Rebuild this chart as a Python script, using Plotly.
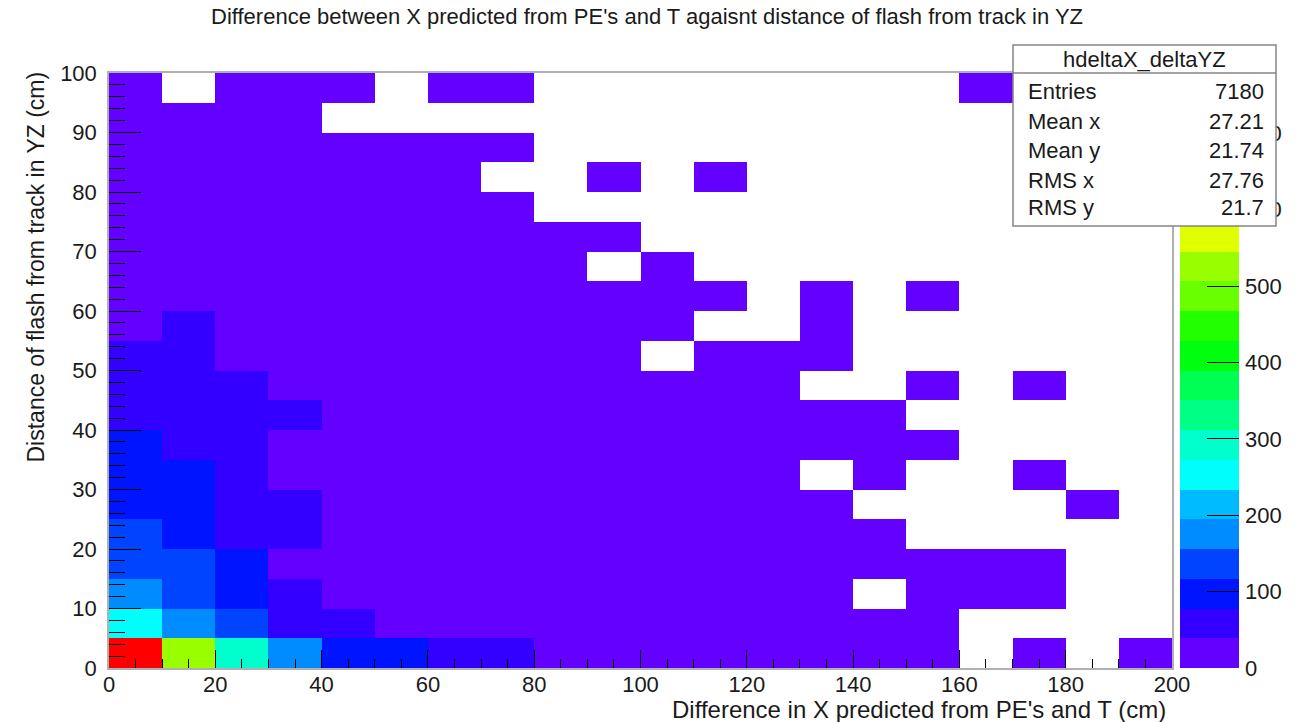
import plotly.graph_objects as go

# ---------------- data ----------------
# bin centres (cm)
x_centers = [5, 15, 25, 35, 45, 55, 65, 75, 85, 95, 105, 115, 125, 135, 145, 155, 165, 175, 185, 195]
y_centers = [2.5, 7.5, 12.5, 17.5, 22.5, 27.5, 32.5, 37.5, 42.5, 47.5,
             52.5, 57.5, 62.5, 67.5, 72.5, 77.5, 82.5, 87.5, 92.5, 97.5]

# counts per y-bin (0 = empty bin), x from 0 to 200 cm
row_y_00_05 = [779, 525, 290, 175, 95, 90, 60, 50, 34, 28, 22, 18, 12, 9, 6, 4, 0, 2, 0, 1]
row_y_05_10 = [250, 165, 130, 55, 45, 36, 30, 26, 21, 17, 13, 10, 7, 5, 3, 2, 0, 0, 0, 0]
row_y_10_15 = [160, 125, 90, 45, 37, 32, 27, 22, 18, 14, 10, 8, 5, 3, 0, 2, 1, 1, 0, 0]
row_y_15_20 = [135, 120, 85, 36, 34, 29, 24, 20, 16, 12, 9, 7, 4, 3, 2, 1, 1, 1, 0, 0]
row_y_20_25 = [120, 85, 65, 42, 33, 27, 22, 18, 14, 11, 8, 6, 4, 2, 1, 0, 0, 0, 0, 0]
row_y_25_30 = [95, 84, 60, 42, 30, 25, 20, 16, 12, 9, 7, 5, 3, 1, 0, 0, 0, 0, 1, 0]
row_y_30_35 = [90, 84, 55, 36, 28, 23, 18, 14, 11, 8, 6, 4, 2, 0, 1, 0, 0, 1, 0, 0]
row_y_35_40 = [85, 70, 50, 35, 26, 20, 16, 12, 9, 7, 5, 3, 2, 1, 1, 1, 0, 0, 0, 0]
row_y_40_45 = [75, 65, 50, 44, 24, 18, 14, 11, 8, 6, 4, 3, 2, 1, 1, 0, 0, 0, 0, 0]
row_y_45_50 = [70, 60, 45, 33, 22, 16, 12, 9, 7, 5, 3, 2, 1, 0, 0, 1, 0, 1, 0, 0]
row_y_50_55 = [55, 50, 36, 28, 19, 14, 10, 8, 6, 4, 0, 2, 1, 1, 0, 0, 0, 0, 0, 0]
row_y_55_60 = [35, 42, 32, 24, 16, 12, 9, 6, 4, 3, 2, 0, 0, 1, 0, 0, 0, 0, 0, 0]
row_y_60_65 = [34, 30, 26, 20, 14, 10, 7, 5, 3, 2, 1, 1, 0, 1, 0, 1, 0, 0, 0, 0]
row_y_65_70 = [28, 25, 21, 16, 11, 8, 6, 4, 2, 0, 1, 0, 0, 0, 0, 0, 0, 0, 0, 0]
row_y_70_75 = [24, 20, 17, 13, 9, 6, 4, 3, 1, 1, 0, 0, 0, 0, 0, 0, 0, 0, 0, 0]
row_y_75_80 = [19, 16, 13, 10, 7, 5, 3, 2, 0, 0, 0, 0, 0, 0, 0, 0, 0, 0, 0, 0]
row_y_80_85 = [15, 12, 10, 7, 5, 3, 2, 0, 0, 1, 0, 1, 0, 0, 0, 0, 0, 0, 0, 0]
row_y_85_90 = [11, 9, 7, 5, 3, 2, 1, 1, 0, 0, 0, 0, 0, 0, 0, 0, 0, 0, 0, 0]
row_y_90_95 = [7, 5, 3, 2, 0, 0, 0, 0, 0, 0, 0, 0, 0, 0, 0, 0, 0, 0, 0, 0]
row_y_95_100 = [3, 0, 2, 1, 1, 0, 1, 1, 0, 0, 0, 0, 0, 0, 0, 0, 1, 0, 0, 0]

x_tick_vals = [0, 20, 40, 60, 80, 100, 120, 140, 160, 180, 200]
y_tick_vals = [0, 10, 20, 30, 40, 50, 60, 70, 80, 90, 100]
z_tick_vals = [0, 100, 200, 300, 400, 500, 600, 700]

stats_name = "hdeltaX_deltaYZ"
stats_labels = ["Entries", "Mean x", "Mean y", "RMS x", "RMS y"]
stats_values = ["7180", "27.21", "21.74", "27.76", "21.7"]

title_text = "Difference between X predicted from PE's and T agaisnt distance of flash from track in YZ"
x_title = "Difference in X predicted from PE's and T (cm)"
y_title = "Distance of flash from track in YZ (cm)"

# ROOT "pretty" palette, 20 contour levels
palette = ["#6300ff", "#3300ff", "#0014ff", "#0044ff", "#008bff",
           "#00bbff", "#00fffc", "#00ffcc", "#00ff85", "#00ff55",
           "#00ff0e", "#22ff00", "#69ff00", "#99ff00", "#e0ff00",
           "#ffee00", "#ffa700", "#ff7700", "#ff3000", "#ff0000"]

# ---------------- build ----------------
rows = [row_y_00_05, row_y_05_10, row_y_10_15, row_y_15_20, row_y_20_25,
        row_y_25_30, row_y_30_35, row_y_35_40, row_y_40_45, row_y_45_50,
        row_y_50_55, row_y_55_60, row_y_60_65, row_y_65_70, row_y_70_75,
        row_y_75_80, row_y_80_85, row_y_85_90, row_y_90_95, row_y_95_100]
z = [[(v if v > 0 else None) for v in r] for r in rows]
zmax = max(max(r) for r in rows)

n = len(palette)
cscale = []
for k, c in enumerate(palette):
    cscale.append([k / n, c])
    cscale.append([(k + 1) / n, c])

band_edges = [zmax * k / n for k in range(n + 1)]
band_mid = [[(band_edges[k] + band_edges[k + 1]) / 2] for k in range(n)]

W, H = 1297, 722
L, R, T, B = 109, 58, 73, 54
pw, ph = W - L - R, H - T - B


def fx(px):
    return (px - L) / pw


def fy(py):
    return (H - B - py) / ph


FONT = "Liberation Sans, Arial, Helvetica, sans-serif"
TXT = "#1a1a1a"
FRAME = "#b0b0b0"

fig = go.Figure()
fig.add_trace(go.Heatmap(x=x_centers, y=y_centers, z=z, zmin=0, zmax=zmax,
                         colorscale=cscale, showscale=False, hoverongaps=False,
                         xaxis="x", yaxis="y"))
fig.add_trace(go.Heatmap(x=[0, 1], y=band_edges, z=band_mid, zmin=0, zmax=zmax,
                         colorscale=cscale, showscale=False,
                         xaxis="x2", yaxis="y2"))

axis_common = dict(showgrid=False, zeroline=False, showline=True, linecolor=FRAME,
                   linewidth=1.5, mirror=True, ticks="inside", tickcolor="black",
                   tickwidth=1, tickfont=dict(family=FONT, size=22, color=TXT),
                   tickmode="array")

fig.update_layout(
    width=W, height=H,
    margin=dict(l=L, r=R, t=T, b=B, pad=0),
    paper_bgcolor="white", plot_bgcolor="white",
    showlegend=False, hovermode=False,
    xaxis=dict(domain=[0, fx(1172)], range=[0, 200], tickvals=x_tick_vals,
               ticklen=18, anchor="y", ticklabelstandoff=-4,
               minor=dict(ticks="inside", ticklen=9, dtick=5, tick0=0,
                          tickcolor="black", tickwidth=1),
               **axis_common),
    yaxis=dict(domain=[0, 1], range=[0, 100], tickvals=y_tick_vals,
               ticklen=32, anchor="x", ticklabelstandoff=6,
               minor=dict(ticks="inside", ticklen=16, dtick=2, tick0=0,
                          tickcolor="black", tickwidth=1),
               **axis_common),
    xaxis2=dict(domain=[fx(1180), fx(1239)], range=[0, 1], visible=False,
                anchor="y2"),
    yaxis2=dict(domain=[0, 1], range=[0, zmax], anchor="x2", side="right",
                tickmode="array", tickvals=z_tick_vals, ticks="inside",
                ticklen=32, tickcolor="black", tickwidth=1, showline=False,
                showgrid=False, zeroline=False, ticklabelstandoff=5,
                tickfont=dict(family=FONT, size=22, color=TXT)),
)

shapes = [
    dict(type="rect", xref="paper", yref="paper", x0=fx(1013), x1=fx(1276),
         y0=fy(226), y1=fy(45), fillcolor="white",
         line=dict(color="#858585", width=1.5), layer="above"),
    dict(type="line", xref="paper", yref="paper", x0=fx(1013), x1=fx(1276),
         y0=fy(73), y1=fy(73), line=dict(color="#858585", width=1.5),
         layer="above"),
]
fig.update_layout(shapes=shapes)

ann = []
ann.append(dict(text=title_text, x=fx(647), y=fy(17), xref="paper", yref="paper",
                xanchor="center", yanchor="middle", showarrow=False,
                font=dict(family=FONT, size=22, color=TXT)))
ann.append(dict(text=x_title, x=fx(1168), y=fy(709), xref="paper", yref="paper",
                xanchor="right", yanchor="middle", showarrow=False,
                font=dict(family=FONT, size=24, color=TXT)))
ann.append(dict(text=y_title, x=fx(35), y=fy(70), xref="paper", yref="paper",
                xanchor="center", yanchor="top", textangle=-90, showarrow=False,
                font=dict(family=FONT, size=23, color=TXT)))
ann.append(dict(text=stats_name, x=fx(1144.5), y=fy(59), xref="paper", yref="paper",
                xanchor="center", yanchor="middle", showarrow=False,
                font=dict(family=FONT, size=22, color=TXT)))
stats_rows_y = [91, 121, 150, 180, 208]
for lab, val, py in zip(stats_labels, stats_values, stats_rows_y):
    ann.append(dict(text=lab, x=fx(1026), y=fy(py), xref="paper", yref="paper",
                    xanchor="left", yanchor="middle", showarrow=False,
                    font=dict(family=FONT, size=22, color=TXT)))
    ann.append(dict(text=val, x=fx(1266), y=fy(py), xref="paper", yref="paper",
                    xanchor="right", yanchor="middle", showarrow=False,
                    font=dict(family=FONT, size=22, color=TXT)))
fig.update_layout(annotations=ann)

fig.write_html("out.html")
